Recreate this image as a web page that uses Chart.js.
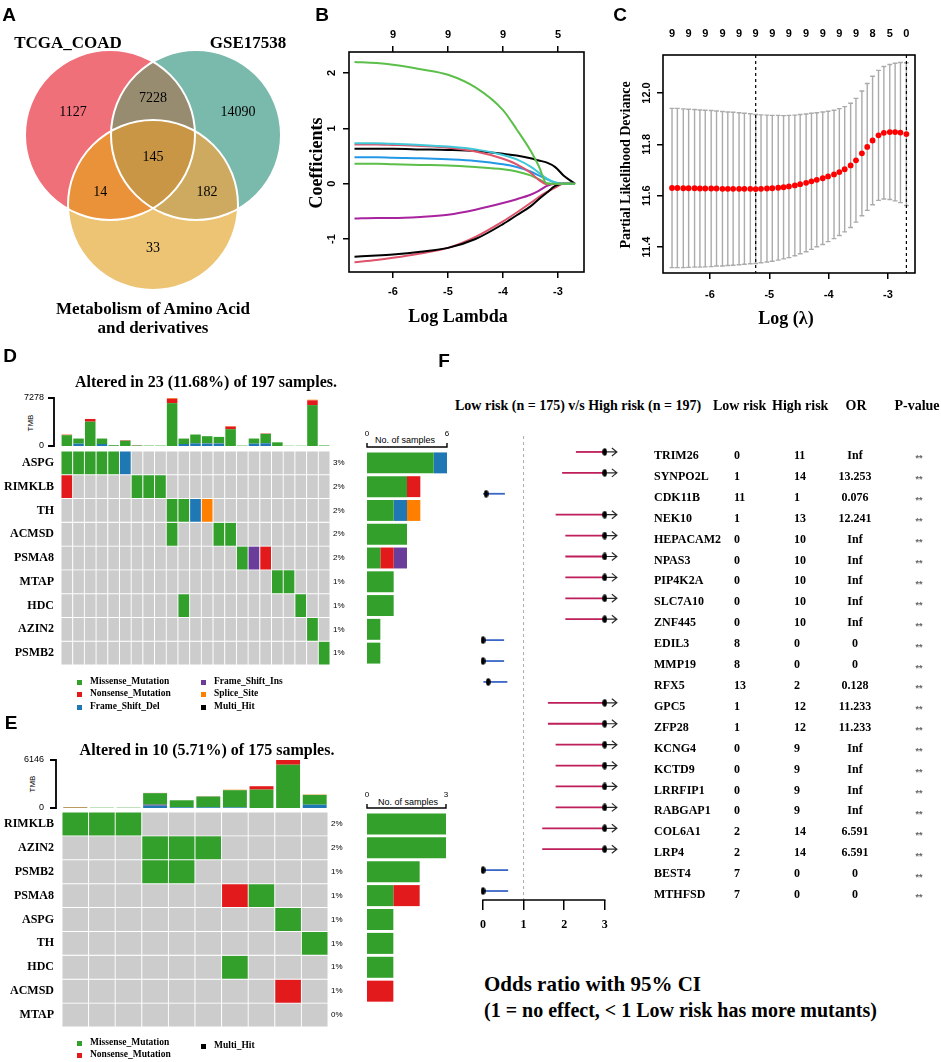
<!DOCTYPE html>
<html>
<head>
<meta charset="utf-8">
<title>Figure</title>
<script src="https://cdn.jsdelivr.net/npm/chart.js@4.4.1/dist/chart.umd.min.js"></script>
<style>
  html, body { margin: 0; padding: 0; background: #fff; }
  #page { position: relative; width: 941px; height: 1062px; overflow: hidden; background: #fff; }
  #page canvas { position: absolute; }
  .t { position: absolute; white-space: nowrap; line-height: 1; color: #000; }
  .sq { position: absolute; width: 5px; height: 5px; }
</style>
</head>
<body>
<div id="page"></div>
<script>
// ---------- A: Venn ----------
const vennSetNames = ['TCGA_COAD', 'GSE17538', 'Metabolism of Amino Acid', 'and derivatives'];
const vennRegions = ['TCGA only', 'TCGA & GSE', 'GSE only', 'all three', 'TCGA & Metab', 'GSE & Metab', 'Metab only'];
const vennCounts = [1127, 7228, 14090, 145, 14, 182, 33];

// ---------- B: lasso coefficient paths ----------
const pathLogLambda = [-6.7, -6.3, -6.0, -5.5, -5.0, -4.5, -4.0, -3.75, -3.5, -3.35, -3.2, -3.05, -2.9, -2.69];
const coefGreenA = [2.20, 2.18, 2.15, 2.07, 1.97, 1.74, 1.33, 0.98, 0.60, 0.32, 0.00, 0, 0, 0];
const coefCyan = [0.73, 0.73, 0.72, 0.70, 0.67, 0.62, 0.52, 0.44, 0.31, 0.20, 0.09, 0.02, 0, 0];
const coefRedA = [0.71, 0.71, 0.70, 0.68, 0.65, 0.58, 0.45, 0.35, 0.20, 0.07, -0.01, 0, 0, 0];
const coefBlackA = [0.63, 0.63, 0.63, 0.62, 0.61, 0.59, 0.54, 0.51, 0.46, 0.42, 0.38, 0.30, 0.15, 0];
const coefBlue = [0.48, 0.48, 0.47, 0.46, 0.44, 0.41, 0.35, 0.30, 0.22, 0.15, 0.08, 0.02, 0, 0];
const coefGreenB = [0.36, 0.36, 0.35, 0.34, 0.33, 0.30, 0.26, 0.22, 0.15, 0.08, 0.01, 0, 0, 0];
const coefPurple = [-0.63, -0.62, -0.62, -0.60, -0.56, -0.47, -0.35, -0.28, -0.20, -0.13, -0.04, 0, 0, 0];
const coefBlackB = [-1.32, -1.30, -1.28, -1.23, -1.16, -1.00, -0.73, -0.57, -0.41, -0.28, -0.16, -0.04, 0, 0];
const coefRedB = [-1.42, -1.38, -1.34, -1.26, -1.16, -0.96, -0.68, -0.52, -0.35, -0.24, -0.15, -0.07, 0, 0];
const pathTickAt = [-6, -5, -4, -3];
const pathTopDf = [9, 9, 9, 5];

// ---------- C: cross-validation ----------
const cvLogLambda = [-6.64, -6.55, -6.45, -6.36, -6.26, -6.17, -6.08, -5.98, -5.89, -5.79, -5.70,
  -5.61, -5.51, -5.42, -5.32, -5.23, -5.14, -5.04, -4.95, -4.85, -4.76, -4.67, -4.57, -4.48, -4.38,
  -4.29, -4.20, -4.10, -4.01, -3.91, -3.82, -3.73, -3.63, -3.54, -3.44, -3.35, -3.26, -3.16, -3.07,
  -2.97, -2.88, -2.79, -2.69];
const cvMean = [11.630, 11.630, 11.629, 11.629, 11.629, 11.628, 11.628, 11.628, 11.628, 11.627, 11.627,
  11.627, 11.627, 11.627, 11.627, 11.626, 11.627, 11.628, 11.629, 11.631, 11.633, 11.636, 11.640, 11.645,
  11.650, 11.656, 11.662, 11.668, 11.675, 11.683, 11.692, 11.703, 11.718, 11.738, 11.765, 11.790, 11.815,
  11.835, 11.845, 11.848, 11.848, 11.846, 11.840];
const cvSd = [0.310, 0.310, 0.309, 0.308, 0.307, 0.306, 0.305, 0.304, 0.302, 0.301, 0.299, 0.298, 0.296,
  0.294, 0.292, 0.290, 0.288, 0.286, 0.284, 0.282, 0.279, 0.277, 0.274, 0.271, 0.268, 0.265, 0.261, 0.258,
  0.254, 0.250, 0.247, 0.244, 0.242, 0.241, 0.243, 0.247, 0.250, 0.253, 0.258, 0.263, 0.268, 0.273, 0.278];
const cvNzAt = [-6.64, -6.36, -6.08, -5.79, -5.51, -5.23, -4.95, -4.67, -4.38, -4.10, -3.82, -3.54, -3.26, -2.97, -2.69];
const cvNz = [9, 9, 9, 9, 9, 9, 9, 9, 9, 9, 9, 9, 8, 5, 0];
const cvLambdaMin = -5.23;
const cvLambda1se = -2.69;
const cvTickY = [11.4, 11.6, 11.8, 12.0];

// ---------- D: oncoplot high risk ----------
const genesD = ['ASPG', 'RIMKLB', 'TH', 'ACMSD', 'PSMA8', 'MTAP', 'HDC', 'AZIN2', 'PSMB2'];
const oncoD = [
  'MMMMMD.................',
  'N.....MMM..............',
  '.........MMDS..........',
  '.........M...MM........',
  '...............MIN.....',
  '..................MM...',
  '..........M.........M..',
  '.....................M.',
  '......................M'
];
const pctD = ['3%', '2%', '2%', '2%', '2%', '1%', '1%', '1%', '1%'];
const tmbDMissense = [1640, 770, 3690, 830, 120, 800, 80, 60, 60, 6500, 830, 1330, 1090, 980, 2550, 60, 770, 1390, 560, 40, 40, 6200, 80];
const tmbDDel = [0, 360, 0, 300, 0, 0, 0, 0, 0, 0, 300, 410, 360, 360, 0, 0, 360, 410, 0, 0, 0, 0, 0];
const tmbDIns = [0, 0, 0, 0, 0, 0, 0, 0, 0, 0, 0, 0, 40, 40, 0, 0, 0, 40, 0, 0, 0, 0, 0];
const tmbDNonsense = [60, 0, 410, 0, 0, 70, 40, 0, 0, 670, 0, 0, 0, 0, 400, 0, 0, 60, 0, 0, 0, 720, 0];
const tmbDSplice = [40, 0, 0, 0, 0, 0, 0, 0, 0, 100, 0, 0, 0, 0, 60, 0, 0, 0, 0, 0, 0, 100, 0];
const tmbDMax = 7278;
const cntDMissense = [5, 3, 2, 3, 1, 2, 2, 1, 1];
const cntDDel = [1, 0, 1, 0, 0, 0, 0, 0, 0];
const cntDNonsense = [0, 1, 0, 0, 1, 0, 0, 0, 0];
const cntDSplice = [0, 0, 1, 0, 0, 0, 0, 0, 0];
const cntDIns = [0, 0, 0, 0, 1, 0, 0, 0, 0];
const cntDMax = 6;

// ---------- E: oncoplot low risk ----------
const genesE = ['RIMKLB', 'AZIN2', 'PSMB2', 'PSMA8', 'ASPG', 'TH', 'HDC', 'ACMSD', 'MTAP'];
const oncoE = [
  'MMM.......',
  '...MMM....',
  '...MM.....',
  '......NM..',
  '........M.',
  '.........M',
  '......M...',
  '........N.',
  '..........'
];
const pctE = ['2%', '2%', '1%', '1%', '1%', '1%', '1%', '1%', '0%'];
const tmbEMissense = [40, 40, 40, 1470, 900, 1380, 2200, 2360, 5546, 1250];
const tmbEDel = [0, 0, 0, 300, 90, 90, 80, 0, 0, 430];
const tmbEIns = [0, 0, 0, 130, 0, 0, 0, 0, 0, 0];
const tmbENonsense = [40, 0, 0, 30, 0, 30, 0, 430, 600, 0];
const tmbESplice = [50, 0, 0, 0, 0, 0, 60, 0, 0, 40];
const tmbEMax = 6146;
const cntEMissense = [3, 3, 2, 1, 1, 1, 1, 0, 0];
const cntENonsense = [0, 0, 0, 1, 0, 0, 0, 1, 0];
const cntEMax = 3;

// ---------- F: forest plot ----------
const forestGenes = ['TRIM26', 'SYNPO2L', 'CDK11B', 'NEK10', 'HEPACAM2', 'NPAS3', 'PIP4K2A', 'SLC7A10', 'ZNF445',
  'EDIL3', 'MMP19', 'RFX5', 'GPC5', 'ZFP28', 'KCNG4', 'KCTD9', 'LRRFIP1', 'RABGAP1', 'COL6A1', 'LRP4', 'BEST4', 'MTHFSD'];
const forestLow = [0, 1, 11, 1, 0, 0, 0, 0, 0, 8, 8, 13, 1, 1, 0, 0, 0, 0, 2, 2, 7, 7];
const forestHigh = [11, 14, 1, 13, 10, 10, 10, 10, 10, 0, 0, 2, 12, 12, 9, 9, 9, 9, 14, 14, 0, 0];
const forestOrText = ['Inf', '13.253', '0.076', '12.241', 'Inf', 'Inf', 'Inf', 'Inf', 'Inf', '0', '0', '0.128',
  '11.233', '11.233', 'Inf', 'Inf', 'Inf', 'Inf', '6.591', '6.591', '0', '0'];
const forestCiLow = [2.29, 1.95, 0, 1.79, 2.03, 2.03, 2.03, 2.03, 2.03, 0, 0, 0.01, 1.6, 1.6, 1.79, 1.79, 1.79, 1.79, 1.46, 1.46, 0, 0];
const forestCiHigh = [Infinity, Infinity, 0.54, Infinity, Infinity, Infinity, Infinity, Infinity, Infinity, 0.52, 0.52, 0.60,
  Infinity, Infinity, Infinity, Infinity, Infinity, Infinity, Infinity, Infinity, 0.62, 0.62];
const forestP = forestGenes.map(() => '**');
const forestTicks = [0, 1, 2, 3];
const forestClip = 3;

// ---------- helpers ----------
const page = document.getElementById('page');
const SERIF = '"Liberation Serif", "Times New Roman", serif';
const SANS = '"Liberation Sans", Arial, sans-serif';

const MUT = {
  M: '#33A02C', N: '#E31A1C', D: '#1F78B4', I: '#6A3D9A', S: '#FF7F00', H: '#000000', '.': '#CCCCCC'
};

Chart.defaults.animation = false;
Chart.defaults.responsive = false;
Chart.defaults.color = '#000';
Chart.defaults.font.family = SANS;
Chart.defaults.plugins.legend.display = false;
Chart.defaults.plugins.tooltip.enabled = false;

function makeCanvas(left, top, w, h) {
  const c = document.createElement('canvas');
  c.width = w;
  c.height = h;
  c.style.left = left + 'px';
  c.style.top = top + 'px';
  c.style.width = w + 'px';
  c.style.height = h + 'px';
  page.appendChild(c);
  return c;
}

function addText(str, x, y, o = {}) {
  const d = document.createElement('div');
  d.className = 't';
  d.textContent = str;
  d.style.left = x + 'px';
  d.style.top = y + 'px';
  d.style.fontSize = (o.size || 13) + 'px';
  d.style.fontFamily = o.sans ? SANS : SERIF;
  d.style.fontWeight = o.normal ? 'normal' : 'bold';
  if (o.color) d.style.color = o.color;
  const ax = o.align === 'left' ? '0' : o.align === 'right' ? '-100%' : '-50%';
  d.style.transform = `translate(${ax}, -50%)` + (o.rotate ? ` rotate(${o.rotate}deg)` : '');
  page.appendChild(d);
}

function legendItem(color, label, x, y) {
  const s = document.createElement('div');
  s.className = 'sq';
  s.style.background = color;
  s.style.left = (x - 2.5) + 'px';
  s.style.top = (y - 2.5) + 'px';
  page.appendChild(s);
  addText(label, x + 11, y, { size: 9.5, align: 'left' });
}

// fix an axis' thickness and drop the label overflow padding so the plot area lands where asked
const fit = (size) => (scale) => {
  if (scale.isHorizontal()) {
    scale.height = size;
    scale.paddingLeft = 0;
    scale.paddingRight = 0;
  } else {
    scale.width = size;
    scale.paddingTop = 0;
    scale.paddingBottom = 0;
  }
};
const setTicks = (values) => (scale) => {
  scale.ticks = values.map((value) => ({ value }));
};
const plain = (v) => String(v);
const tickGrid = { display: true, drawOnChartArea: false, drawTicks: true, tickLength: 6, color: '#000', lineWidth: 1.5 };
const noGrid = { display: false, drawTicks: false };
const noBorder = { display: false };
const boldSans11 = { family: SANS, weight: 'bold', size: 11 };

const framePlugin = {
  id: 'frame',
  afterDraw(chart) {
    const { ctx, chartArea: a } = chart;
    ctx.save();
    ctx.strokeStyle = '#000';
    ctx.lineWidth = 1.6;
    ctx.strokeRect(a.left, a.top, a.right - a.left, a.bottom - a.top);
    ctx.restore();
  }
};

function rotatedYLabels(offset, digits) {
  return {
    id: 'rotY',
    afterDraw(chart) {
      const { ctx, chartArea, scales: { y } } = chart;
      ctx.save();
      ctx.font = `bold 11px ${SANS}`;
      ctx.fillStyle = '#000';
      ctx.textAlign = 'center';
      ctx.textBaseline = 'middle';
      y.ticks.forEach((t) => {
        ctx.save();
        ctx.translate(chartArea.left - offset, y.getPixelForValue(t.value));
        ctx.rotate(-Math.PI / 2);
        ctx.fillText(t.value.toFixed(digits), 0, 0);
        ctx.restore();
      });
      ctx.restore();
    }
  };
}

function bracketY(offset) {
  return {
    id: 'bracketY',
    afterDraw(chart) {
      const { ctx, chartArea: a, scales: { y } } = chart;
      const x = a.left - offset;
      const y0 = y.getPixelForValue(y.min);
      const y1 = y.getPixelForValue(y.max);
      ctx.save();
      ctx.strokeStyle = '#000';
      ctx.lineWidth = 1.8;
      ctx.beginPath();
      ctx.moveTo(x - 6, y1); ctx.lineTo(x, y1); ctx.lineTo(x, y0); ctx.lineTo(x - 6, y0);
      ctx.stroke();
      ctx.restore();
    }
  };
}

function bracketX(offset) {
  return {
    id: 'bracketX',
    afterDraw(chart) {
      const { ctx, chartArea: a, scales: { x } } = chart;
      const y = a.top - offset;
      const x0 = x.getPixelForValue(x.min);
      const x1 = x.getPixelForValue(x.max);
      ctx.save();
      ctx.strokeStyle = '#000';
      ctx.lineWidth = 1.4;
      ctx.beginPath();
      ctx.moveTo(x0, y - 4); ctx.lineTo(x0, y); ctx.lineTo(x1, y); ctx.lineTo(x1, y - 4);
      ctx.stroke();
      ctx.restore();
    }
  };
}

// ---------- A: Venn ----------
const vennCenters = [[-0.506, 0.271], [0.506, 0.271], [0, -0.553]];
const vennLabelPos = [[-0.94, 0.54], [0, 0.706], [1.0, 0.54], [0, 0.01], [-0.62, -0.40], [0.635, -0.40], [0, -1.06]];
const vennFill = ['#F0707A', '#7ABAAC', '#ECC474'];
const vennPairFill = ['#978C70', '#EA923A', '#CDAA5F'];
const vennTripleFill = '#C99646';

const vennPlugin = {
  id: 'venn',
  beforeDatasetsDraw(chart) {
    const { ctx, scales: { x, y } } = chart;
    const r = x.getPixelForValue(1) - x.getPixelForValue(0);
    const cs = vennCenters.map(([cx, cy]) => ({ x: x.getPixelForValue(cx), y: y.getPixelForValue(cy) }));
    const path = (c) => { ctx.beginPath(); ctx.arc(c.x, c.y, r, 0, 2 * Math.PI); };
    ctx.save();
    cs.forEach((c, i) => { path(c); ctx.fillStyle = vennFill[i]; ctx.fill(); });
    [[0, 1], [0, 2], [1, 2]].forEach(([a, b], k) => {
      ctx.save();
      path(cs[a]); ctx.clip();
      path(cs[b]); ctx.fillStyle = vennPairFill[k]; ctx.fill();
      ctx.restore();
    });
    ctx.save();
    path(cs[0]); ctx.clip();
    path(cs[1]); ctx.clip();
    path(cs[2]); ctx.fillStyle = vennTripleFill; ctx.fill();
    ctx.restore();
    ctx.lineWidth = 2;
    ctx.strokeStyle = '#fff';
    cs.forEach((c) => { path(c); ctx.stroke(); });
    ctx.fillStyle = '#000';
    ctx.font = `14px ${SERIF}`;
    ctx.textAlign = 'center';
    ctx.textBaseline = 'middle';
    chart.getDatasetMeta(0).data.forEach((pt, i) => ctx.fillText(String(vennCounts[i]), pt.x, pt.y));
    ctx.restore();
  }
};

new Chart(makeCanvas(0, 0, 310, 340), {
  type: 'scatter',
  data: { datasets: [{ data: vennLabelPos.map(([x, y]) => ({ x, y })), pointRadius: 0 }] },
  options: {
    layout: { padding: 0 },
    scales: {
      x: { display: false, min: -1.8, max: 1.847 },
      y: { display: false, min: -2.141, max: 1.859 }
    }
  },
  plugins: [vennPlugin]
});

addText('A', 9, 14, { size: 19, sans: true });
addText(vennSetNames[0], 68, 42, { size: 17 });
addText(vennSetNames[1], 248, 42, { size: 17 });
addText(vennSetNames[2], 153, 308, { size: 17 });
addText(vennSetNames[3], 153, 327, { size: 17 });

// ---------- B ----------
const coefSeries = [coefGreenA, coefCyan, coefRedA, coefBlackA, coefBlue, coefGreenB, coefPurple, coefBlackB, coefRedB];
const coefColors = ['#5CBF4A', '#3FC8D8', '#DF536B', '#000000', '#2297E6', '#5CBF4A', '#A8239E', '#000000', '#DF536B'];

new Chart(makeCanvas(300, 0, 300, 340), {
  type: 'line',
  data: {
    datasets: coefSeries.map((s, k) => ({
      data: s.map((v, i) => ({ x: pathLogLambda[i], y: v })),
      borderColor: coefColors[k],
      borderWidth: 2,
      pointRadius: 0,
      cubicInterpolationMode: 'monotone',
      fill: false
    }))
  },
  options: {
    layout: { padding: { left: 0, right: 16, top: 0, bottom: 0 } },
    scales: {
      x: {
        type: 'linear', min: -6.8, max: -2.527, afterFit: fit(68), afterBuildTicks: setTicks(pathTickAt),
        ticks: { padding: 7, font: boldSans11, autoSkip: false, callback: plain }, grid: tickGrid, border: noBorder
      },
      x2: {
        type: 'linear', position: 'top', min: -6.8, max: -2.527, afterFit: fit(52), afterBuildTicks: setTicks(pathTickAt),
        ticks: { padding: 4, font: boldSans11, autoSkip: false, callback: (v, i) => pathTopDf[i] },
        grid: tickGrid, border: noBorder
      },
      y: {
        min: -1.596, max: 2.38, afterFit: fit(49), afterBuildTicks: setTicks([-1, 0, 1, 2]),
        ticks: { display: false }, grid: tickGrid, border: noBorder
      }
    }
  },
  plugins: [framePlugin, rotatedYLabels(17, 0)]
});

addText('B', 322, 14, { size: 19, sans: true });
addText('Coefficients', 316, 163, { size: 18, rotate: -90 });
addText('Log Lambda', 458, 316, { size: 18 });

// ---------- C ----------
const cvBarsPlugin = {
  id: 'cvBars',
  beforeDatasetsDraw(chart) {
    const { ctx, chartArea: a, scales: { x, y } } = chart;
    ctx.save();
    ctx.strokeStyle = '#ABABAB';
    ctx.lineWidth = 1.4;
    cvLogLambda.forEach((lx, i) => {
      const px = x.getPixelForValue(lx);
      const top = y.getPixelForValue(cvMean[i] + cvSd[i]);
      const bot = y.getPixelForValue(cvMean[i] - cvSd[i]);
      ctx.beginPath();
      ctx.moveTo(px, top); ctx.lineTo(px, bot);
      ctx.moveTo(px - 2.4, top); ctx.lineTo(px + 2.4, top);
      ctx.moveTo(px - 2.4, bot); ctx.lineTo(px + 2.4, bot);
      ctx.stroke();
    });
    ctx.strokeStyle = '#000';
    ctx.lineWidth = 1.2;
    ctx.setLineDash([3, 3]);
    [cvLambdaMin, cvLambda1se].forEach((lx) => {
      const px = x.getPixelForValue(lx);
      ctx.beginPath(); ctx.moveTo(px, a.top); ctx.lineTo(px, a.bottom); ctx.stroke();
    });
    ctx.restore();
  }
};

new Chart(makeCanvas(610, 0, 331, 340), {
  type: 'scatter',
  data: {
    datasets: [{
      data: cvLogLambda.map((x, i) => ({ x, y: cvMean[i] })),
      backgroundColor: '#FF0000', borderColor: '#FF0000', borderWidth: 0, pointRadius: 2.9
    }]
  },
  options: {
    layout: { padding: { left: 0, right: 26, top: 0, bottom: 0 } },
    scales: {
      x: {
        type: 'linear', min: -6.792, max: -2.545, afterFit: fit(67), afterBuildTicks: setTicks(pathTickAt),
        ticks: { padding: 9, font: boldSans11, autoSkip: false, callback: plain }, grid: tickGrid, border: noBorder
      },
      x2: {
        type: 'linear', position: 'top', min: -6.792, max: -2.545, afterFit: fit(55), afterBuildTicks: setTicks(cvNzAt),
        ticks: { padding: 14, font: boldSans11, autoSkip: false, maxRotation: 0, callback: (v, i) => cvNz[i] },
        grid: noGrid, border: noBorder
      },
      y: {
        min: 11.299, max: 12.148, afterFit: fit(53), afterBuildTicks: setTicks(cvTickY),
        ticks: { display: false }, grid: tickGrid, border: noBorder
      }
    }
  },
  plugins: [cvBarsPlugin, framePlugin, rotatedYLabels(16, 1)]
});

addText('C', 620, 14, { size: 19, sans: true });
addText('Partial Likelihood Deviance', 626, 165, { size: 14, rotate: -90 });
addText('Log (\u03bb)', 786, 318, { size: 18 });

// ---------- oncoplot builders ----------
function tmbChart(canvas, stacks, max, cfg) {
  const n = stacks[0].data.length;
  return new Chart(canvas, {
    type: 'bar',
    data: {
      labels: Array.from({ length: n }, (_, i) => 'S' + (i + 1)),
      datasets: stacks.map((s) => ({ data: s.data, backgroundColor: s.color, barPercentage: cfg.barPct, categoryPercentage: 1 }))
    },
    options: {
      layout: { padding: cfg.padding },
      scales: {
        x: { display: false, stacked: true },
        y: {
          stacked: true, min: 0, max, afterFit: fit(cfg.left), afterBuildTicks: setTicks([0, max]),
          ticks: { padding: cfg.labPad, font: { size: 9 }, autoSkip: false, callback: plain }, grid: noGrid, border: noBorder
        }
      }
    },
    plugins: [bracketY(cfg.bracket)]
  });
}

function matrixChart(canvas, genes, rows, pct, cfg) {
  const n = rows[0].length;
  return new Chart(canvas, {
    type: 'bar',
    data: {
      labels: Array.from({ length: n }, (_, i) => 'S' + (i + 1)),
      datasets: rows.map((row, r) => ({
        data: row.split('').map(() => [r, r + 1]),
        backgroundColor: row.split('').map((c) => MUT[c]),
        borderColor: '#ffffff',
        borderWidth: 0.8,
        borderSkipped: false,
        grouped: false,
        barPercentage: 1,
        categoryPercentage: 1
      }))
    },
    options: {
      layout: { padding: cfg.padding },
      scales: {
        x: { display: false },
        y: {
          min: 0, max: genes.length, reverse: true, afterFit: fit(cfg.left),
          afterBuildTicks: setTicks(genes.map((g, i) => i + 0.5)),
          ticks: { padding: cfg.labPad, autoSkip: false, callback: (v, i) => genes[i], font: { family: SERIF, weight: 'bold', size: 12 } },
          grid: noGrid, border: noBorder
        },
        y2: {
          position: 'right', min: 0, max: genes.length, reverse: true, afterFit: fit(cfg.right),
          afterBuildTicks: setTicks(genes.map((g, i) => i + 0.5)),
          ticks: { padding: 3, autoSkip: false, callback: (v, i) => pct[i], font: { size: 8 } },
          grid: noGrid, border: noBorder
        }
      }
    }
  });
}

function countChart(canvas, genes, stacks, max, cfg) {
  return new Chart(canvas, {
    type: 'bar',
    data: {
      labels: genes,
      datasets: stacks.map((s) => ({ data: s.data, backgroundColor: s.color, barPercentage: 0.88, categoryPercentage: 1 }))
    },
    options: {
      indexAxis: 'y',
      layout: { padding: cfg.padding },
      scales: {
        x: {
          position: 'top', stacked: true, min: 0, max, afterFit: fit(cfg.top), afterBuildTicks: setTicks([0, max]),
          ticks: { padding: 12, font: { size: 8 }, autoSkip: false, callback: plain }, grid: noGrid, border: noBorder
        },
        y: { stacked: true, display: false }
      }
    },
    plugins: [bracketX(4)]
  });
}

// ---------- D ----------
addText('D', 10, 355, { size: 19, sans: true });
addText('Altered in 23 (11.68%) of 197 samples.', 206, 382, { size: 16 });
addText('TMB', 31, 423, { size: 8, sans: true, normal: true, rotate: -90 });
addText('No. of samples', 405, 440, { size: 9, sans: true, normal: true });

tmbChart(makeCanvas(0, 390, 345, 60), [
  { data: tmbDDel, color: MUT.D },
  { data: tmbDIns, color: MUT.I },
  { data: tmbDMissense, color: MUT.M },
  { data: tmbDNonsense, color: MUT.N },
  { data: tmbDSplice, color: MUT.S }
], tmbDMax, { padding: { top: 8, bottom: 4, right: 15, left: 0 }, left: 61, labPad: 17, barPct: 0.9, bracket: 7 });

matrixChart(makeCanvas(0, 445, 360, 225), genesD, oncoD, pctD,
  { padding: { top: 6, bottom: 5, left: 0, right: 0 }, left: 61, right: 30, labPad: 7 });

countChart(makeCanvas(355, 425, 100, 245), genesD, [
  { data: cntDMissense, color: MUT.M },
  { data: cntDDel, color: MUT.D },
  { data: cntDNonsense, color: MUT.N },
  { data: cntDSplice, color: MUT.S },
  { data: cntDIns, color: MUT.I }
], cntDMax, { padding: { left: 12, right: 8, top: 0, bottom: 5 }, top: 26 });

legendItem(MUT.M, 'Missense_Mutation', 79, 682);
legendItem(MUT.N, 'Nonsense_Mutation', 79, 694);
legendItem(MUT.D, 'Frame_Shift_Del', 79, 707);
legendItem(MUT.I, 'Frame_Shift_Ins', 203, 682);
legendItem(MUT.S, 'Splice_Site', 203, 694);
legendItem(MUT.H, 'Multi_Hit', 203, 707);

// ---------- E ----------
addText('E', 11, 722, { size: 19, sans: true });
addText('Altered in 10 (5.71%) of 175 samples.', 207, 750, { size: 16 });
addText('TMB', 33, 784, { size: 8, sans: true, normal: true, rotate: -90 });
addText('No. of samples', 408, 802, { size: 9, sans: true, normal: true });

tmbChart(makeCanvas(0, 752, 345, 60), [
  { data: tmbEDel, color: MUT.D },
  { data: tmbEIns, color: MUT.I },
  { data: tmbEMissense, color: MUT.M },
  { data: tmbENonsense, color: MUT.N },
  { data: tmbESplice, color: MUT.S }
], tmbEMax, { padding: { top: 8, bottom: 4, right: 17, left: 0 }, left: 62, labPad: 18, barPct: 0.9, bracket: 6 });

matrixChart(makeCanvas(0, 806, 360, 226), genesE, oncoE, pctE,
  { padding: { top: 6, bottom: 5, left: 0, right: 0 }, left: 62, right: 32, labPad: 8 });

countChart(makeCanvas(355, 780, 100, 252), genesE, [
  { data: cntEMissense, color: MUT.M },
  { data: cntENonsense, color: MUT.N }
], cntEMax, { padding: { left: 12, right: 9, top: 0, bottom: 5 }, top: 32 });

legendItem(MUT.M, 'Missense_Mutation', 79, 1043);
legendItem(MUT.N, 'Nonsense_Mutation', 79, 1055);
legendItem(MUT.H, 'Multi_Hit', 203, 1046);

// ---------- F ----------
addText('F', 444, 360, { size: 19, sans: true });
addText('Low risk (n = 175) v/s High risk (n = 197)', 455, 406, { size: 14, align: 'left' });
addText('Low risk', 713, 406, { size: 14, align: 'left' });
addText('High risk', 772, 406, { size: 14, align: 'left' });
addText('OR', 856, 406, { size: 14 });
addText('P-value', 917, 406, { size: 14 });
addText('Odds ratio with 95% CI', 484, 984, { size: 21, align: 'left' });
addText('(1 = no effect, < 1 Low risk has more mutants)', 484, 1010, { size: 20, align: 'left' });

const forestOr = forestOrText.map((t) => (t === 'Inf' ? Infinity : Number(t)));
const dotImg = document.createElement('canvas');
dotImg.width = 5;
dotImg.height = 8;
{
  const d = dotImg.getContext('2d');
  d.fillStyle = '#000';
  d.beginPath();
  d.ellipse(2.5, 4, 2.3, 3.8, 0, 0, 2 * Math.PI);
  d.fill();
}

const F_LEFT = 440;
const colGene = 654 - F_LEFT;
const colLow = 734 - F_LEFT;
const colHigh = 794 - F_LEFT;
const colOr = 855 - F_LEFT;
const colP = 919 - F_LEFT;

const forestPlugin = {
  id: 'forest',
  beforeDatasetsDraw(chart) {
    const { ctx, chartArea: a, scales: { x, y } } = chart;
    ctx.save();
    ctx.strokeStyle = '#A8A8A8';
    ctx.lineWidth = 1;
    ctx.setLineDash([3, 3]);
    ctx.beginPath();
    ctx.moveTo(x.getPixelForValue(1), y.getPixelForValue(-0.76));
    ctx.lineTo(x.getPixelForValue(1), a.bottom);
    ctx.stroke();
    ctx.setLineDash([]);
    forestGenes.forEach((g, i) => {
      const py = y.getPixelForValue(i);
      const hi = Math.min(forestCiHigh[i], forestClip);
      ctx.strokeStyle = forestOr[i] > 1 ? '#BE1E5A' : '#3A66C4';
      ctx.lineWidth = 1.8;
      ctx.beginPath();
      ctx.moveTo(x.getPixelForValue(forestCiLow[i]), py);
      ctx.lineTo(x.getPixelForValue(hi), py);
      ctx.stroke();
      if (forestCiHigh[i] > forestClip) {
        const x0 = x.getPixelForValue(forestClip);
        const x1 = x.getPixelForValue(forestClip + 0.3);
        ctx.strokeStyle = '#2a2a2a';
        ctx.lineWidth = 1.2;
        ctx.beginPath();
        ctx.moveTo(x0, py); ctx.lineTo(x1, py);
        ctx.moveTo(x1 - 5, py - 4); ctx.lineTo(x1, py); ctx.lineTo(x1 - 5, py + 4);
        ctx.stroke();
      }
    });
    ctx.restore();
  },
  afterDraw(chart) {
    const { ctx, chartArea: a, scales: { x, y } } = chart;
    ctx.save();
    ctx.strokeStyle = '#000';
    ctx.lineWidth = 1.5;
    ctx.beginPath();
    ctx.moveTo(x.getPixelForValue(forestTicks[0]) - 0.75, a.bottom);
    ctx.lineTo(x.getPixelForValue(forestTicks[forestTicks.length - 1]) + 0.75, a.bottom);
    ctx.stroke();
    ctx.textBaseline = 'middle';
    forestGenes.forEach((g, i) => {
      const py = y.getPixelForValue(i) + 4;
      ctx.fillStyle = '#000';
      ctx.font = `bold 12px ${SERIF}`;
      ctx.textAlign = 'left';
      ctx.fillText(g, colGene, py);
      ctx.fillText(String(forestLow[i]), colLow, py);
      ctx.fillText(String(forestHigh[i]), colHigh, py);
      ctx.textAlign = 'center';
      ctx.fillText(forestOrText[i], colOr, py);
      ctx.fillStyle = '#666';
      ctx.font = `bold 9px ${SANS}`;
      ctx.fillText(forestP[i], colP, py + 3);
    });
    ctx.restore();
  }
};

new Chart(makeCanvas(F_LEFT, 380, 501, 560), {
  type: 'scatter',
  data: {
    datasets: [{
      data: forestGenes.map((g, i) => ({ x: Math.min(forestOr[i], forestClip), y: i })),
      pointStyle: dotImg,
      pointRadius: 3
    }]
  },
  options: {
    layout: { padding: { left: 20, right: 301, top: 50, bottom: 0 } },
    scales: {
      x: {
        type: 'linear', min: -0.567, max: 3.87, afterFit: fit(40), afterBuildTicks: setTicks(forestTicks),
        ticks: { padding: 8, autoSkip: false, callback: plain, font: { family: SERIF, weight: 'bold', size: 12 } },
        grid: { display: true, drawOnChartArea: false, drawTicks: true, tickLength: 10, color: '#000', lineWidth: 1.5 },
        border: noBorder
      },
      y: { type: 'linear', min: -1.05, max: 21.43, reverse: true, display: false }
    }
  },
  plugins: [forestPlugin]
});
</script>
</body>
</html>
